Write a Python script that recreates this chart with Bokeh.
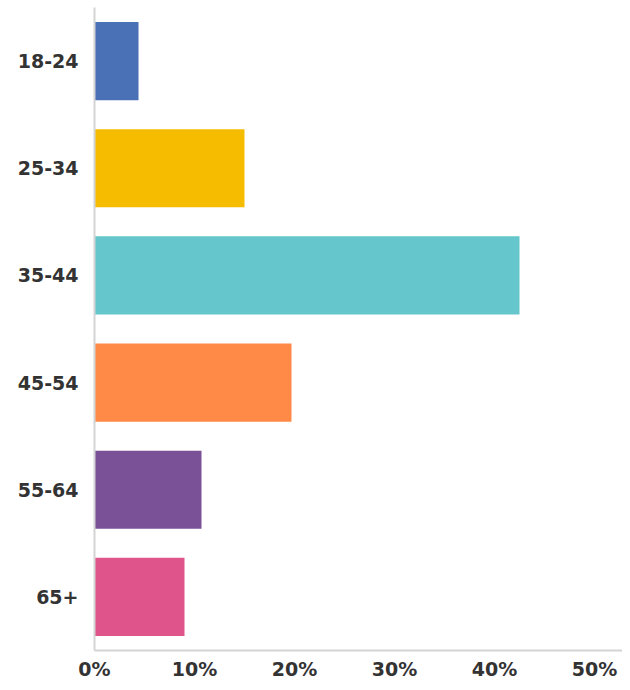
from bokeh.plotting import figure
from bokeh.models import FactorRange, Range1d, FixedTicker, PrintfTickFormatter, ColumnDataSource
from bokeh.embed import file_html
from bokeh.resources import INLINE

# Data
age_groups = ["18-24", "25-34", "35-44", "45-54", "55-64", "65+"]
percentages = [4.4, 15.0, 42.5, 19.7, 10.7, 9.0]
bar_colors = ["#4a70b6", "#f6bd00", "#65c6cb", "#ff8a48", "#7a5196", "#df548b"]
x_ticks = [0, 10, 20, 30, 40, 50]

source = ColumnDataSource(dict(cat=age_groups, val=percentages, color=bar_colors))

p = figure(
    width=622, height=682,
    y_range=FactorRange(factors=list(reversed(age_groups)), range_padding=0),
    x_range=Range1d(0, 52.8),
    output_backend="svg", toolbar_location=None,
    min_border_left=94, min_border_right=0, min_border_top=7, min_border_bottom=0,
)
p.hbar(y="cat", right="val", left=0, height=0.73, color="color", source=source, line_color=None)

p.outline_line_color = None
p.xgrid.visible = False
p.ygrid.visible = False
p.background_fill_color = "white"

FONT = "DejaVu Sans"

# x axis
p.xaxis.ticker = FixedTicker(ticks=x_ticks)
p.xaxis.formatter = PrintfTickFormatter(format="%d%%")
p.xaxis.major_tick_line_color = None
p.xaxis.minor_tick_line_color = None
p.xaxis.major_tick_out = 0
p.xaxis.major_tick_in = 0
p.xaxis.minor_tick_out = 0
p.xaxis.axis_line_color = "#d4d4d4"
p.xaxis.axis_line_width = 2
p.xaxis.major_label_standoff = 7
p.xaxis.major_label_text_font = FONT
p.xaxis.major_label_text_font_style = "bold"
p.xaxis.major_label_text_font_size = "19px"
p.xaxis.major_label_text_color = "#333333"

# y axis
p.yaxis.major_tick_line_color = None
p.yaxis.minor_tick_line_color = None
p.yaxis.major_tick_out = 0
p.yaxis.major_tick_in = 0
p.yaxis.minor_tick_out = 0
p.yaxis.axis_line_color = "#d4d4d4"
p.yaxis.axis_line_width = 2
p.yaxis.major_label_standoff = 16
p.yaxis.major_label_text_font = FONT
p.yaxis.major_label_text_font_style = "bold"
p.yaxis.major_label_text_font_size = "19px"
p.yaxis.major_label_text_color = "#333333"

open("out.html", "w").write(file_html(p, INLINE))
